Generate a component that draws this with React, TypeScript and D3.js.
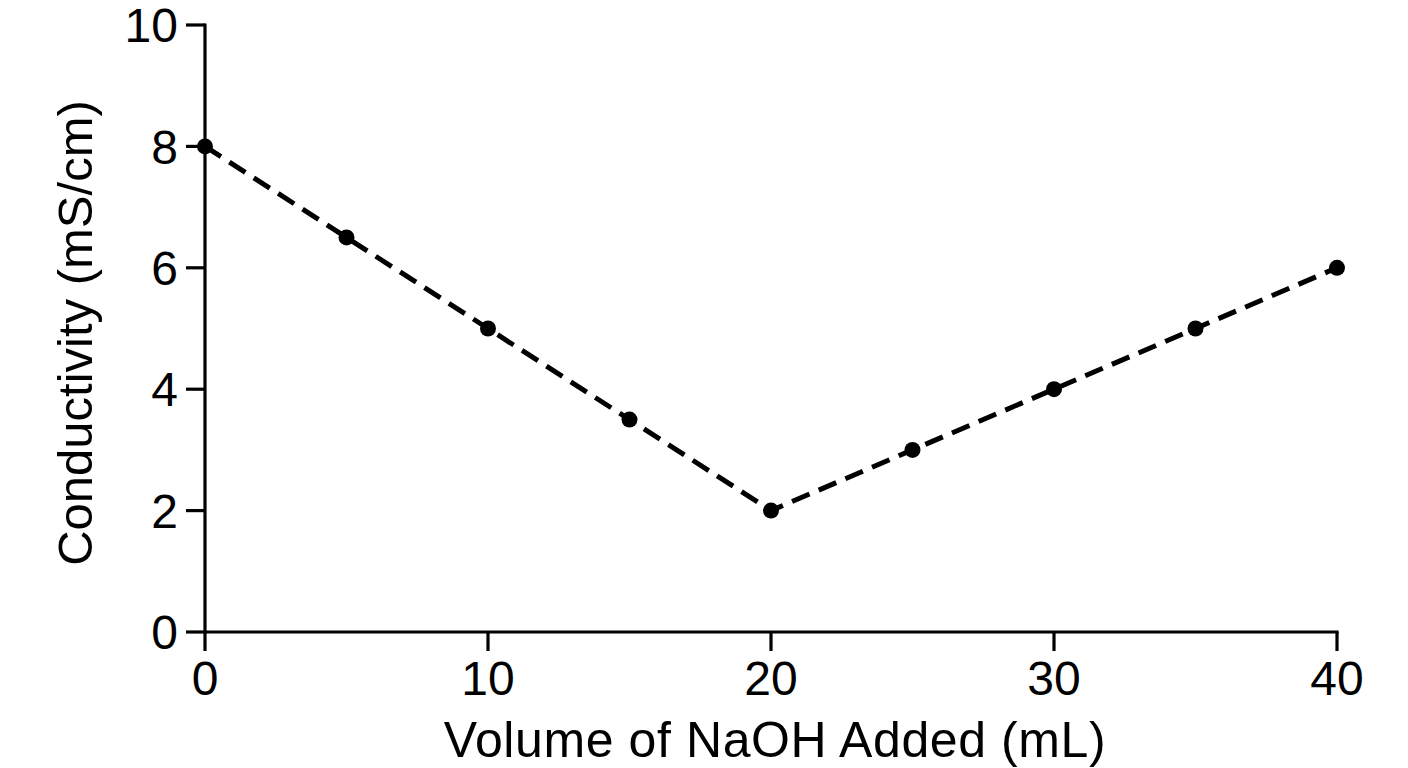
import React from "react";
import * as d3 from "d3";

// Titration data: conductivity vs. volume of NaOH added
const volumes = [0, 5, 10, 15, 20, 25, 30, 35, 40];
const conductivity = [8, 6.5, 5, 3.5, 2, 3, 4, 5, 6];
const xTicks = [0, 10, 20, 30, 40];
const yTicks = [0, 2, 4, 6, 8, 10];
const xTitle = "Volume of NaOH Added (mL)";
const yTitle = "Conductivity (mS/cm)";

const W = 1408;
const H = 768;
const FONT = "'Liberation Sans', Arial, Helvetica, sans-serif";

export default function App() {
  const x = d3.scaleLinear().domain([0, 40]).range([205, 1337]);
  const y = d3.scaleLinear().domain([0, 10]).range([632, 25]);
  const points = volumes.map((v, i) => ({ v, c: conductivity[i] }));
  const line = d3
    .line<{ v: number; c: number }>()
    .x((d) => x(d.v))
    .y((d) => y(d.c));

  const tickLen = 19;
  const axisW = 3.2;

  return (
    <div style={{ position: "absolute", left: 0, top: 0 }}>
      <svg width={W} height={H} style={{ display: "block", background: "#fff" }}>
        {/* axes */}
        <line x1={x(0)} x2={x(0)} y1={y(10)} y2={y(0)} stroke="#000" strokeWidth={axisW} strokeLinecap="square" />
        <line x1={x(0)} x2={x(40)} y1={y(0)} y2={y(0)} stroke="#000" strokeWidth={axisW} strokeLinecap="square" />

        {/* y ticks */}
        {yTicks.map((t) => (
          <g key={"y" + t}>
            <line x1={x(0) - tickLen} x2={x(0)} y1={y(t)} y2={y(t)} stroke="#000" strokeWidth={axisW} />
            <text
              x={x(0) - tickLen - 8}
              y={y(t)}
              dy="0.36em"
              textAnchor="end"
              fontFamily={FONT}
              fontSize={48}
              fill="#000"
            >
              {t}
            </text>
          </g>
        ))}

        {/* x ticks */}
        {xTicks.map((t) => (
          <g key={"x" + t}>
            <line x1={x(t)} x2={x(t)} y1={y(0)} y2={y(0) + tickLen} stroke="#000" strokeWidth={axisW} />
            <text
              x={x(t)}
              y={695}
              textAnchor="middle"
              fontFamily={FONT}
              fontSize={48}
              fill="#000"
            >
              {t}
            </text>
          </g>
        ))}

        {/* axis titles */}
        <text
          x={775}
          y={757}
          textAnchor="middle"
          fontFamily={FONT}
          fontSize={50}
          letterSpacing={0.6}
          fill="#000"
        >
          {xTitle}
        </text>
        <text
          transform={`translate(92, 333) rotate(-90)`}
          textAnchor="middle"
          fontFamily={FONT}
          fontSize={49}
          fill="#000"
        >
          {yTitle}
        </text>

        {/* dashed trend line */}
        <path d={line(points) || ""} fill="none" stroke="#000" strokeWidth={5} strokeDasharray="19 10" />

        {/* data points */}
        {points.map((p) => (
          <circle key={p.v} cx={x(p.v)} cy={y(p.c)} r={8} fill="#000" />
        ))}
      </svg>
    </div>
  );
}
